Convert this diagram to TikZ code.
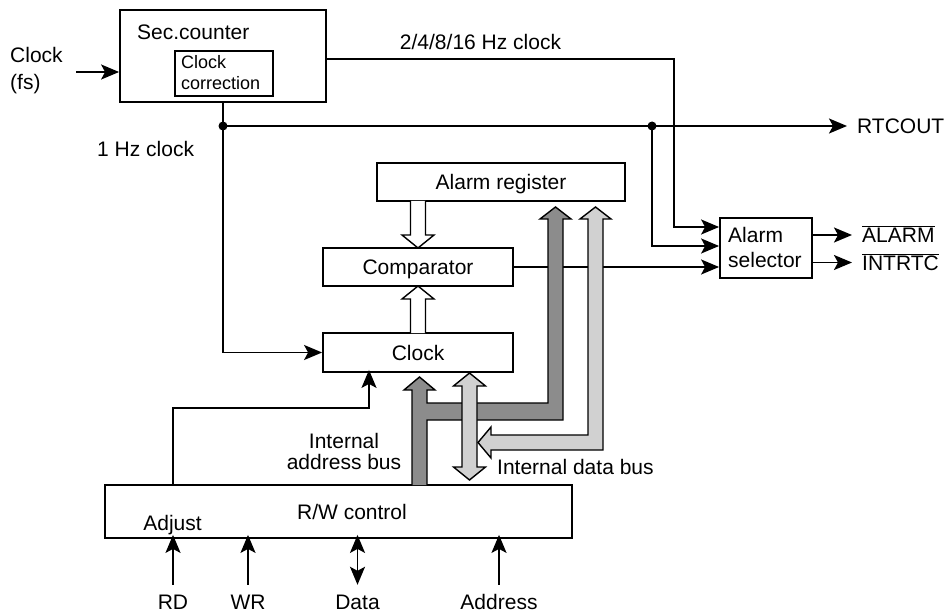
\documentclass[tikz,border=0pt]{standalone}
\usepackage{fontspec}
\setmainfont{Liberation Sans}
\usetikzlibrary{arrows.meta}

\tikzset{
  box/.style={draw, line width=1.8pt, inner sep=0pt, text height=15pt, text depth=0pt,
    font=\fontsize{21}{25}\selectfont},
  lbl/.style={inner sep=0pt, text height=15pt, text depth=0pt, font=\fontsize{21}{25}\selectfont},
  outlbl/.style={lbl, inner xsep=10pt, anchor=west},
  mlbl/.style={inner sep=0pt, font=\fontsize{21}{25}\selectfont},
  sig/.style={line width=1.8pt, ->},
  hollow/.style={line width=1.4pt, fill=white},
  addrbus/.style={line width=1.4pt, fill=black!45},
  databus/.style={line width=1.4pt, fill=black!18},
}

\begin{document}
\begin{tikzpicture}[x=1pt, y=-1pt, >={Stealth[length=18pt,width=15pt,inset=4pt]}]
    \useasboundingbox (0,0) rectangle (944,612);

    % blocks
    \node[box, minimum width=206pt, minimum height=92pt] (seccnt) at (223,56) {};
    \node[lbl, anchor=west] (seclbl) at (137,32) {Sec.counter};
    \node[draw, line width=1.2pt, minimum width=98pt, minimum height=45pt] (corr) at (224,73.5) {};
    \node[inner sep=0pt, align=left, anchor=west, font=\fontsize{18}{21}\selectfont] (corrlbl) at (181,73) {Clock\\correction};

    \node[box, minimum width=248pt, minimum height=38pt] (alreg) at (501,182) {Alarm register};
    \node[box, minimum width=190pt, minimum height=38pt] (comp) at (418,267) {Comparator};
    \node[box, minimum width=190pt, minimum height=39pt] (clk) at (418,352.5) {Clock};
    \node[box, minimum width=92pt, minimum height=60pt] (alsel) at (766,248) {};
    \node[mlbl, align=left, anchor=west, font=\fontsize{21}{25}\selectfont] (alsellbl) at (728,247) {Alarm\\selector};
    \node[box, minimum width=467pt, minimum height=53pt] (rw) at (338.5,511.5) {};
    \node[lbl] (rwlbl) at (352,512) {R/W control};
    \node[lbl] (adjlbl) at (172.5,522.5) {Adjust};

    % inputs and outputs
    \node[mlbl, align=left, anchor=west, font=\fontsize{21}{27}\selectfont] (fs) at (10,71) {Clock\\(fs)};
    \coordinate (fsin) at (76,72);
    \draw[sig] (fsin) -- (fsin -| seccnt.west);

    \node[outlbl] (rtcout) at (847,126) {RTCOUT};
    \node[outlbl] (alarm) at (852,235) {$\overline{\mbox{ALARM}}$};
    \node[outlbl] (intrtc) at (852,262.5) {$\overline{\mbox{INTRTC}}$};

    \node[lbl] (rd) at (173,601.5) {RD};
    \node[lbl] (wr) at (248,601.5) {WR};
    \node[lbl] (data) at (357.5,601.5) {Data};
    \node[lbl] (addr) at (499,601.5) {Address};

    \draw[sig, shorten <=9pt] (rd.north) -- ([yshift=4pt]rd |- rw.south);
    \draw[sig, shorten <=9pt] (wr.north) -- ([yshift=4pt]wr |- rw.south);
    \draw[sig, <->, shorten <=9pt] (data.north) -- ([yshift=4pt]data |- rw.south);
    \draw[sig, shorten <=9pt] (addr.north) -- ([yshift=4pt]addr |- rw.south);

    % clock lines
    \coordinate (dota) at (223,126);
    \coordinate (dotb) at (652,126);
    \coordinate (hzbend) at (674,59);
    \draw[sig] (seccnt.south) |- (clk.west);
    \draw[sig] (dota) -- (rtcout.west);
    \fill (dota) circle (4.5pt);
    \fill (dotb) circle (4.5pt);
    \draw[sig] (hzbend -| seccnt.east) -- (hzbend) |- (alsel.west |- 0,227);
    \draw[sig] (dotb) |- (alsel.west |- 0,246);
    \node[lbl] (hzlbl) at (480.5,42.5) {2/4/8/16 Hz clock};
    \node[lbl, anchor=west] (onehz) at (97,149.5) {1 Hz clock};

    \draw[sig] (comp.east) -- (comp.east -| alsel.west);
    \draw[sig] (alsel.east |- alarm) -- (alarm.west);
    \draw[sig] (alsel.east |- intrtc) -- (intrtc.west);

    % adjust
    \coordinate (adjbend) at (369,408);
    \draw[sig] (rw.north -| rd) |- (adjbend) -- ([yshift=3pt]adjbend |- clk.south);

    % hollow arrows
    \draw[hollow] (410.5,201) -- (410.5,235) -- (402,235) -- (418,248) -- (434,235) -- (425.5,235) -- (425.5,201);
    \draw[hollow] (410.5,333) -- (410.5,299) -- (402,299) -- (418,286) -- (434,299) -- (425.5,299) -- (425.5,333);

    % internal buses
    \draw[addrbus] (412,485) -- (412,390) -- (404,390) -- (419.5,377) -- (435,390) -- (427,390)
        -- (427,403) -- (548,403) -- (548,219) -- (540,219) -- (555.5,207) -- (571,219)
        -- (563,219) -- (563,420) -- (427,420) -- (427,485);
    \draw[databus] (469.5,373) -- (485.5,386) -- (477,386) -- (477,467) -- (485.5,467) -- (469.5,480)
        -- (453.5,467) -- (462,467) -- (462,386) -- (453.5,386) -- cycle;
    \draw[databus] (478,442.5) -- (491,427) -- (491,435) -- (588,435) -- (588,219) -- (580,219)
        -- (595.5,207) -- (611,219) -- (603,219) -- (603,450) -- (491,450) -- (491,458) -- cycle;

    \node[mlbl, align=center, font=\fontsize{21}{21}\selectfont] (addrlbl) at (344,451) {Internal\\address bus};
    \node[lbl, anchor=west] (datalbl) at (497,466.5) {Internal data bus};
\end{tikzpicture}
\end{document}
